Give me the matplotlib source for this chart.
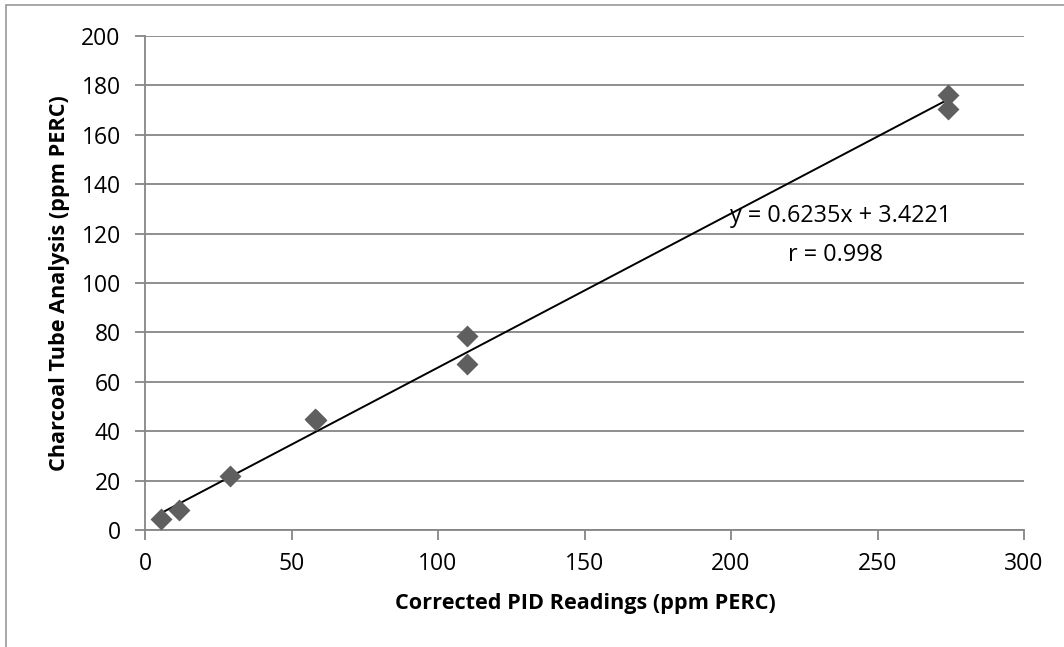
import matplotlib
matplotlib.use("Agg")
import matplotlib.pyplot as plt
from matplotlib.patches import Rectangle
import numpy as np

pid_readings = [5.5, 11.5, 29, 58, 58.5, 110, 110, 274, 274]
charcoal_tube = [4.3, 8, 22, 45, 44.5, 78.4, 67.2, 176, 170.3]
slope = 0.6235
intercept = 3.4221
eq_text = "y = 0.6235x + 3.4221"
r_text = "r = 0.998"
x_ticks = [0, 50, 100, 150, 200, 250, 300]
y_ticks = [0, 20, 40, 60, 80, 100, 120, 140, 160, 180, 200]

plt.rcParams['font.family'] = ['Open Sans', 'DejaVu Sans']

W, H = 1064, 647
fig = plt.figure(figsize=(W/100, H/100), dpi=100)
ax = fig.add_axes([145/W, 1-530/H, (1024-145)/W, (530-36)/H])

grid_c = '#868686'
ax.set_xlim(0, 300)
ax.set_ylim(0, 200)
ax.set_xticks(x_ticks)
ax.set_yticks(y_ticks)
ax.grid(axis='y', color=grid_c, linewidth=1.3)
ax.set_axisbelow(True)
for s in ['top', 'right']:
    ax.spines[s].set_visible(False)
for s in ['left', 'bottom']:
    ax.spines[s].set_color(grid_c)
    ax.spines[s].set_linewidth(1.3)
ax.tick_params(axis='both', direction='out', length=7, width=1.3, color=grid_c,
               labelsize=16.5, labelcolor='black')
ax.tick_params(axis='y', pad=10.5)
ax.tick_params(axis='x', pad=9)

xs = np.array([min(pid_readings), max(pid_readings)])
ax.plot(xs, slope*xs + intercept, color='black', linewidth=1.4, zorder=2)
ax.scatter(pid_readings, charcoal_tube, marker='D', s=125, color='#5f5f5f',
           zorder=3, linewidths=0)

ax.text(237.5, 127.0, eq_text, ha='center', va='center', fontsize=16.8)
ax.text(235.5, 111.5, r_text, ha='center', va='center', fontsize=16.8)

fig.text(585/W, 1-603/H, 'Corrected PID Readings (ppm PERC)', fontsize=15.6,
         fontweight='bold', ha='center', va='center')
fig.text(60/W, 1-283/H, 'Charcoal Tube Analysis (ppm PERC)', fontsize=15.6,
         fontweight='bold', ha='center', va='center', rotation=90)

fig.patches.append(Rectangle((6/W, -0.01), 1.02, 1-5/H+0.01, transform=fig.transFigure,
                             fill=False, edgecolor='#a0a0a0', linewidth=1.3))

fig.savefig('out.png', dpi=100)
